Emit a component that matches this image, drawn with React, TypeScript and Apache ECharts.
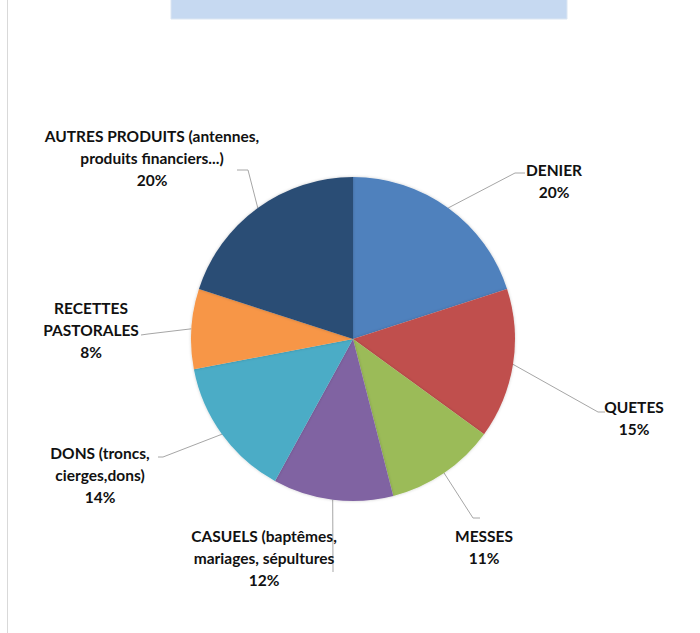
import React, { useEffect, useRef } from "react";
import * as echarts from "echarts";

const categories = [
  "DENIER",
  "QUETES",
  "MESSES",
  "CASUELS (baptêmes,\nmariages, sépultures",
  "DONS (troncs,\ncierges,dons)",
  "RECETTES\nPASTORALES",
  "AUTRES PRODUITS (antennes,\nproduits financiers...)",
];
const values = [20, 15, 11, 12, 14, 8, 20];
const colors = ["#4F81BD", "#C0504D", "#9BBB59", "#8064A2", "#4BACC6", "#F79646", "#2C4D75"];

// label block centres and leader-line bends (layout, not data)
const labelPos = [
  { x: 554, y: 181, bend: [[515, 173], [525, 173]] },
  { x: 634, y: 418, bend: [[598, 412], [605, 412]] },
  { x: 484, y: 547, bend: [[473, 518], [480, 518]] },
  { x: 264, y: 558, bend: [[333, 572], [333, 572]] },
  { x: 100, y: 475, bend: [[163, 457], [158, 457]] },
  { x: 91, y: 330, bend: [[148, 334], [141, 335]] },
  { x: 152, y: 158, bend: [[248, 170], [237, 170]] },
];

const CX = 353;
const CY = 339;
const R = 162;

export default function App() {
  const ref = useRef<HTMLDivElement>(null);
  useEffect(() => {
    if (!ref.current) return;
    const chart = echarts.init(ref.current, undefined, { renderer: "svg" });
    chart.setOption({
      animation: false,
      backgroundColor: "#ffffff",
      graphic: [
        {
          type: "rect",
          shape: { x: 171, y: -2, width: 396, height: 21 },
          style: { fill: "#C6D9F1", stroke: "#DCE6F2", lineWidth: 1 },
        },
        {
          type: "line",
          shape: { x1: 7.5, y1: 0, x2: 7.5, y2: 633 },
          style: { stroke: "#D9D9D9", lineWidth: 1 },
        },
      ],
      series: [
        {
          type: "pie",
          center: [CX, CY],
          radius: R,
          startAngle: 90,
          clockwise: true,
          color: colors,
          itemStyle: { borderWidth: 0, shadowBlur: 3, shadowColor: "rgba(0,0,0,0.2)" },
          emphasis: { disabled: true },
          data: categories.map((name, i) => ({ name, value: values[i] })),
          label: {
            show: true,
            position: "outside",
            formatter: (p: any) => `${p.name}\n${p.value}%`,
            fontFamily: "Lato",
            fontWeight: "bold",
            fontSize: 15.5,
            lineHeight: 22,
            color: "#111111",
            align: "center",
          },
          labelLine: {
            show: true,
            length: 10,
            length2: 10,
            lineStyle: { color: "#A6A6A6", width: 1 },
          },
          labelLayout: (params: any) => {
            const i = params.dataIndex;
            const lp = labelPos[i];
            const start =
              params.labelLinePoints && params.labelLinePoints[0]
                ? params.labelLinePoints[0]
                : [CX, CY];
            return {
              x: lp.x,
              y: lp.y,
              align: "center",
              verticalAlign: "middle",
              labelLinePoints: [start, lp.bend[0], lp.bend[1]],
            };
          },
        },
      ],
    });
    return () => chart.dispose();
  }, []);
  return (
    <div
      ref={ref}
      style={{ position: "fixed", left: 0, top: 0, width: 700, height: 633 }}
    />
  );
}
